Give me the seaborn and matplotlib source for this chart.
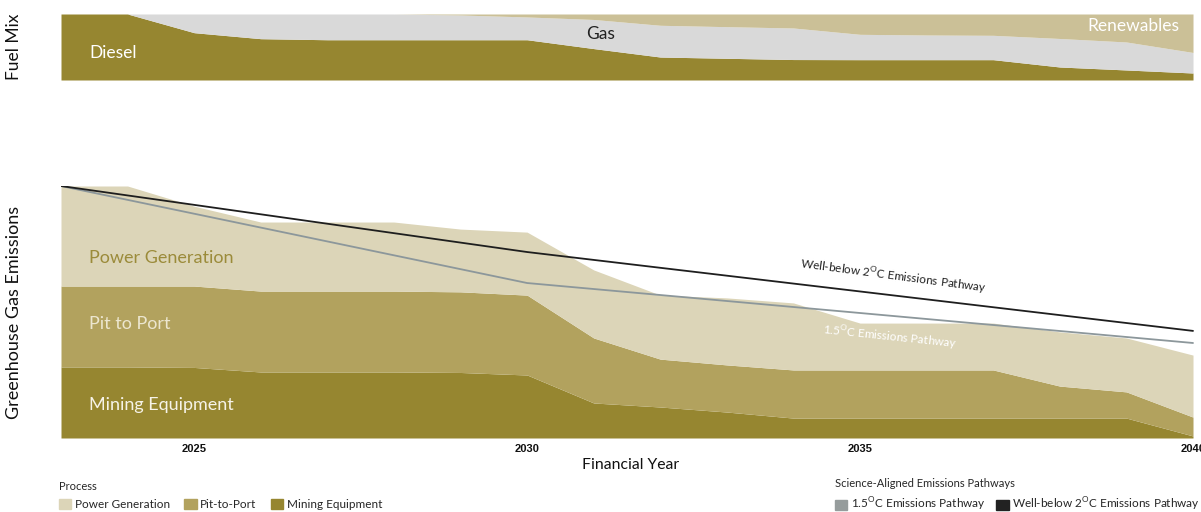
import numpy as np
import pandas as pd
import matplotlib
matplotlib.use("Agg")
import matplotlib.pyplot as plt
import seaborn as sns
from matplotlib.patches import Patch

years = list(range(2023, 2041))

# greenhouse gas emissions, indexed (2023 total = 100), cumulative tops
mining_equipment = [28.2, 28.2, 28.0, 26.2, 26.2, 26.2, 26.0, 25.0, 13.9, 12.3, 10.3, 7.9, 7.9, 7.9, 7.9, 7.9, 7.9, 0.8]
pit_to_port_top = [60.3, 60.3, 60.3, 58.3, 58.3, 58.3, 58.0, 56.7, 39.7, 31.3, 29.0, 27.0, 27.0, 27.0, 27.0, 20.6, 18.3, 8.3]
total_top = [100, 100, 92.0, 85.7, 85.7, 85.7, 82.9, 81.7, 66.7, 56.7, 55.6, 53.6, 45.6, 45.6, 45.6, 42.1, 39.7, 32.9]

# fuel mix (%), cumulative tops
diesel_top = [100, 100, 71.7, 62.6, 61.0, 61.0, 61.0, 61.0, 47.6, 34.8, 32.9, 31.0, 30.8, 30.8, 30.8, 19.7, 15.2, 10.6]
gas_top = [100, 100, 100, 100, 100, 100, 98.5, 95.5, 91.7, 82.9, 80.8, 78.8, 69.2, 68.2, 67.7, 62.9, 57.6, 41.7]

pathway_years = [2023, 2030, 2040]
pathway_2c = [100, 73.8, 42.5]
pathway_15c = [100, 61.5, 37.7]

tick_years = [2025, 2030, 2035, 2040]

c_mining = "#968630"
c_pit = "#b2a25e"
c_power = "#dcd5b8"
c_gas = "#d9d9d9"
c_renew = "#cbc097"
c_2c = "#1e1e1e"
c_15c = "#8c979b"

sns.set_theme(style="white")
plt.rcParams["font.family"] = ["Lato", "DejaVu Sans"]

mining = np.array(mining_equipment)
pit = np.array(pit_to_port_top) - mining
power = np.array(total_top) - np.array(pit_to_port_top)
diesel = np.array(diesel_top)
gas = np.array(gas_top) - diesel
renew = 100 - np.array(gas_top)

fig = plt.figure(figsize=(12.01, 5.12), dpi=100)
W, H = 1201, 512
x0 = 61 / W
ax_top = fig.add_axes([x0, 1 - 80 / H, 1 - x0, 66 / H])
ax = fig.add_axes([x0, 1 - 438 / H, 1 - x0, 252 / H])
xmax = 2040.12

# fuel mix strip
ax_top.stackplot(years, diesel, gas, renew, colors=[c_mining, c_gas, c_renew], linewidth=0)
ax_top.set_xlim(2023, xmax)
ax_top.set_ylim(0, 100)
ax_top.axis("off")
ax_top.text(2023.42, 41, "Diesel", color="white", fontsize=12.5, va="center", ha="left")
ax_top.text(2031.1, 70, "Gas", color="#222222", fontsize=12.5, va="center", ha="center")
ax_top.text(2039.8, 82, "Renewables", color="white", fontsize=12.5, va="center", ha="right")

# emissions stack
ax.stackplot(years, mining, pit, power, colors=[c_mining, c_pit, c_power], linewidth=0)
paths = pd.DataFrame({"year": pathway_years * 2,
                      "value": pathway_15c + pathway_2c,
                      "pathway": ["1.5"] * 3 + ["2"] * 3})
sns.lineplot(data=paths, x="year", y="value", hue="pathway",
             palette={"1.5": c_15c, "2": c_2c}, linewidth=1.3, legend=False, ax=ax)

ax.set_xlim(2023, xmax)
ax.set_ylim(0, 100)
for s in ax.spines.values():
    s.set_visible(False)
ax.set_yticks([])
ax.set_xticks(tick_years)
ax.set_xticklabels([str(y) for y in tick_years], fontsize=8, fontweight="bold",
                   family="Liberation Sans", color="#111111")
ax.tick_params(axis="x", length=0, pad=4)
ax.set_xlabel("Financial Year", fontsize=11.3, color="#111111", labelpad=3)
ax.set_ylabel("")

ax.text(2023.42, 71.4, "Power Generation", color="#9b8b3a", fontsize=13, va="center")
ax.text(2023.42, 45.2, "Pit to Port", color="#ece6cf", fontsize=13, va="center")
ax.text(2023.42, 13.1, "Mining Equipment", color="#f6f3e8", fontsize=13, va="center")
ax.text(2035.5, 64.0, "Well-below 2$^{\\mathregular{O}}$C Emissions Pathway", color="#222222",
        fontsize=8.5, rotation=-7.5, ha="center", va="center", rotation_mode="anchor")
ax.text(2035.45, 40.0, "1.5$^{\\mathregular{O}}$C Emissions Pathway", color="white",
        fontsize=8.5, rotation=-6, ha="center", va="center", rotation_mode="anchor")

fig.text(14 / W, 1 - 47 / H, "Fuel Mix", rotation=90, fontsize=12.5, ha="center", va="center", color="#111111")
fig.text(14 / W, 1 - 312 / H, "Greenhouse Gas Emissions", rotation=90, fontsize=13,
         ha="center", va="center", color="#111111")

leg_kw = dict(frameon=False, loc="upper left", borderpad=0, borderaxespad=0, handlelength=1.05,
              handleheight=0.95, handletextpad=0.3, fontsize=8.5,
              title_fontsize=8, alignment="left", labelspacing=0.6)
h1 = [Patch(color=c_power, label="Power Generation"), Patch(color=c_pit, label="Pit-to-Port"),
      Patch(color=c_mining, label="Mining Equipment")]
fig.legend(handles=h1, title="Process", ncol=3, columnspacing=1.2,
           bbox_to_anchor=(59 / W, 1 - 481 / H), **leg_kw)
h2 = [Patch(color="#969c9c", label="1.5$^{\\mathregular{O}}$C Emissions Pathway"),
      Patch(color="#222222", label="Well-below 2$^{\\mathregular{O}}$C Emissions Pathway")]
fig.legend(handles=h2, title="Science-Aligned Emissions Pathways", ncol=2, columnspacing=0.9,
           bbox_to_anchor=(835 / W, 1 - 478 / H), **leg_kw)

fig.savefig("out.png", dpi=100)
